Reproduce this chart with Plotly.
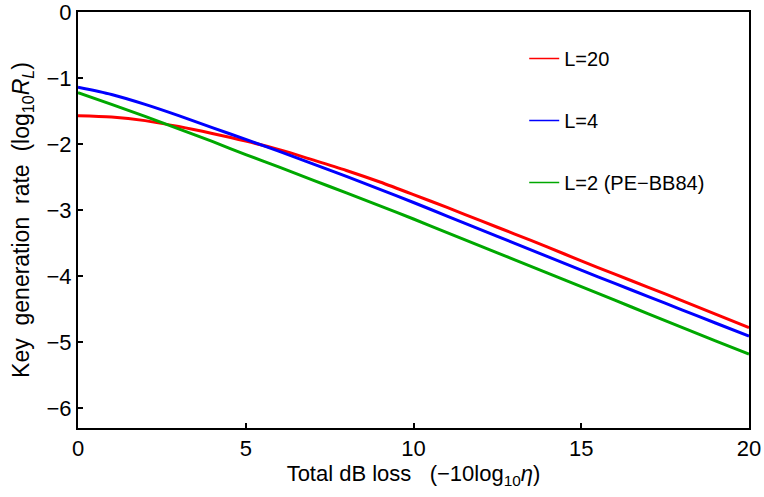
import plotly.graph_objects as go

loss_db = [0, 1, 2, 3, 4, 5, 6, 7, 8, 9, 10, 11, 12, 13, 14, 15, 16, 17, 18, 19, 20]
rate_L20 = [-1.57, -1.59, -1.645, -1.735, -1.84, -1.955, -2.085, -2.24, -2.40, -2.575, -2.765,
            -2.96, -3.16, -3.36, -3.56, -3.77, -3.97, -4.17, -4.37, -4.575, -4.78]
rate_L4 = [-1.14, -1.25, -1.40, -1.57, -1.75, -1.93, -2.11, -2.30, -2.49, -2.685, -2.885,
           -3.09, -3.295, -3.50, -3.705, -3.91, -4.11, -4.31, -4.51, -4.71, -4.91]
rate_L2 = [-1.22, -1.40, -1.58, -1.77, -1.96, -2.16, -2.35, -2.545, -2.74, -2.935, -3.135,
           -3.34, -3.545, -3.75, -3.955, -4.16, -4.365, -4.57, -4.775, -4.98, -5.18]

series_names = ["L=20", "L=4", "L=2 (PE\u2212BB84)"]
series_colors = ["#ff0000", "#0000ff", "#00a800"]
x_ticks = [0, 5, 10, 15, 20]
y_ticks = [0, -1, -2, -3, -4, -5, -6]

FONT = "Liberation Sans, Arial, sans-serif"

fig = go.Figure()
for name, ys, col in zip(series_names, [rate_L20, rate_L4, rate_L2], series_colors):
    fig.add_trace(go.Scatter(
        x=loss_db, y=ys, mode="lines", name=name, showlegend=False,
        line=dict(color=col, width=3, shape="spline", smoothing=0.8),
    ))
# legend-only entries with thin sample lines
for name, col in zip(series_names, series_colors):
    fig.add_trace(go.Scatter(
        x=[None], y=[None], mode="lines", name=name, legendgroup=name,
        line=dict(color=col, width=1.5),
    ))

axis_common = dict(
    showline=True, linecolor="black", linewidth=2, mirror=True,
    ticks="inside", ticklen=5, tickwidth=1.5, tickcolor="black",
    showgrid=False, zeroline=False, automargin=False,
    ticklabeloverflow="allow",
    tickfont=dict(family=FONT, size=22, color="black"),
)

fig.update_layout(
    width=764, height=497,
    margin=dict(l=78, r=15, t=12, b=69),
    paper_bgcolor="white", plot_bgcolor="white",
    font=dict(family=FONT, color="black"),
    xaxis=dict(range=[0, 20], tickvals=x_ticks,
               title=dict(text="Total dB loss\u00a0\u00a0\u00a0(\u221210log<sub>10</sub><i>\u03b7</i>)",
                          font=dict(family=FONT, size=22), standoff=4),
               **axis_common),
    yaxis=dict(range=[-6.3, 0], tickvals=y_ticks,
               title=dict(text="Key\u00a0\u00a0generation\u00a0\u00a0rate\u00a0\u00a0(log<sub>10</sub><i>R<sub>L</sub></i>)",
                          font=dict(family=FONT, size=23), standoff=10),
               **axis_common),
    legend=dict(x=0.665, y=0.935, xanchor="left", yanchor="top",
                bgcolor="rgba(0,0,0,0)", borderwidth=0,
                font=dict(family=FONT, size=20, color="black"),
                tracegroupgap=33, itemwidth=30),
    showlegend=True,
)

fig.write_html("out.html", config={"displayModeBar": False},
               post_script="document.body.style.margin='0';document.body.style.overflow='hidden';")
